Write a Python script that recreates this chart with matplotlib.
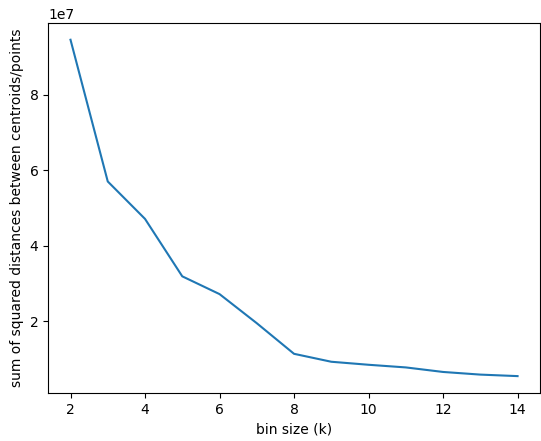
import matplotlib

matplotlib.use("Agg")
import matplotlib.pyplot as plt

bin_sizes = [2, 3, 4, 5, 6, 7, 8, 9, 10, 11, 12, 13, 14]
sse = [9.45e7, 5.70e7, 4.71e7, 3.19e7, 2.72e7, 1.95e7, 1.14e7, 0.93e7,
       0.85e7, 0.78e7, 0.66e7, 0.59e7, 0.55e7]

fig, ax = plt.subplots(figsize=(5.41, 4.41), dpi=100)
ax.plot(bin_sizes, sse)
ax.set_xlabel("bin size (k)")
ax.set_ylabel("sum of squared distances between centroids/points")
fig.subplots_adjust(left=0.089, right=0.998, top=0.948, bottom=0.109)
fig.savefig("out.png")
